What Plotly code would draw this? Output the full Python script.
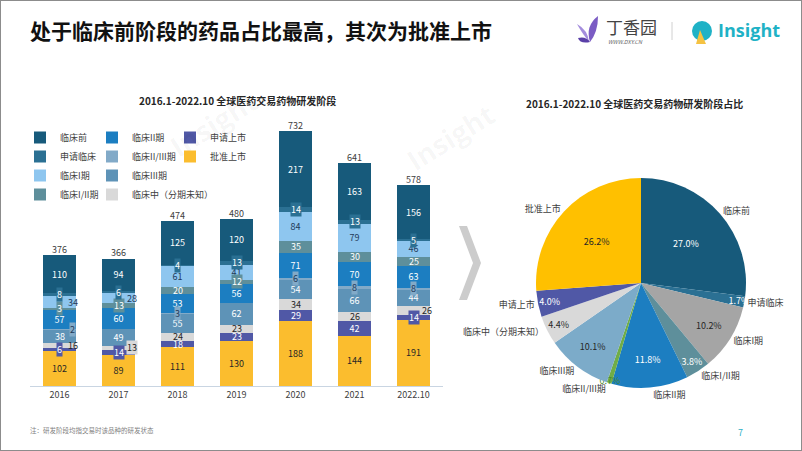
import plotly.graph_objects as go

W, H = 802, 451

# ---------------- data ----------------
years = ["2016", "2017", "2018", "2019", "2020", "2021", "2022.10"]
# stack order: bottom -> top
series_names = ["批准上市", "申请上市", "临床中（分期未知）", "临床III期", "临床II/III期",
                "临床II期", "临床I/II期", "临床I期", "申请临床", "临床前"]
approved        = [102, 89, 111, 130, 188, 144, 191]
apply_market    = [6, 14, 18, 23, 29, 42, 14]
unknown_phase   = [16, 13, 24, 23, 34, 26, 26]
phase3          = [38, 49, 55, 62, 54, 66, 44]
phase2_3        = [2, 0, 3, 0, 6, 8, 8]
phase2          = [57, 60, 53, 56, 71, 70, 63]
phase1_2        = [3, 13, 20, 12, 35, 30, 25]
phase1          = [34, 28, 61, 41, 84, 79, 46]
apply_clinical  = [8, 6, 4, 13, 14, 13, 5]
preclinical     = [110, 94, 125, 120, 217, 163, 156]
series_values = [approved, apply_market, unknown_phase, phase3, phase2_3,
                 phase2, phase1_2, phase1, apply_clinical, preclinical]

# pie order (clockwise from 12 o'clock)
pie_labels = ["临床前", "申请临床", "临床I期", "临床I/II期", "临床II期", "临床II/III期",
              "临床III期", "临床中（分期未知）", "申请上市", "批准上市"]

# ---------------- styles ----------------
bar_colors = {
    "批准上市": "#fbbd2e", "申请上市": "#5058a6", "临床中（分期未知）": "#d9d9d9",
    "临床III期": "#5e93b7", "临床II/III期": "#82aac8", "临床II期": "#1c7ec1",
    "临床I/II期": "#5e8f9b", "临床I期": "#8ec6ef", "申请临床": "#2b7093", "临床前": "#175a7b",
}
text_colors = {
    "批准上市": "#262626", "申请上市": "#ffffff", "临床中（分期未知）": "#262626",
    "临床III期": "#ffffff", "临床II/III期": "#1f3a5a", "临床II期": "#ffffff",
    "临床I/II期": "#ffffff", "临床I期": "#1f3a5a", "申请临床": "#ffffff", "临床前": "#ffffff",
}
pie_colors = {
    "临床前": "#175a7b", "申请临床": "#2b7093", "临床I期": "#a5a5a5", "临床I/II期": "#5e8f9b",
    "临床II期": "#1c7ec1", "临床II/III期": "#70ad47", "临床III期": "#7cabc9",
    "临床中（分期未知）": "#d9d9d9", "申请上市": "#5058a6", "批准上市": "#ffc000",
}
pie_text_colors = {
    "临床前": "#ffffff", "申请临床": "#ffffff", "临床I期": "#262626", "临床I/II期": "#ffffff",
    "临床II期": "#ffffff", "临床II/III期": "#4a8a2c", "临床III期": "#262626",
    "临床中（分期未知）": "#262626", "申请上市": "#ffffff", "批准上市": "#262626",
}
legend_of = {
    "临床前": ("legend", 1), "申请临床": ("legend", 2), "临床I期": ("legend", 3), "临床I/II期": ("legend", 4),
    "临床II期": ("legend2", 1), "临床II/III期": ("legend2", 2), "临床III期": ("legend2", 3),
    "临床中（分期未知）": ("legend2", 4), "申请上市": ("legend3", 1), "批准上市": ("legend3", 2),
}

FONT = "Noto Sans CJK SC"
BOXED = 14     # segments this small get a boxed label
BIG = 40       # segments larger than this keep the bar's own inside text
MIN_GAP = 21   # minimum vertical distance (data units) between small labels
SHIFTS = [0, 13, -13]


def px(x):
    return x / W


def py(y):
    return 1 - y / H


fig = go.Figure()

# bars
for name, vals in zip(series_names, series_values):
    lg, rank = legend_of[name]
    fig.add_trace(go.Bar(
        x=years, y=vals, name=name, marker=dict(color=bar_colors[name], line=dict(width=0)),
        text=[str(v) if v > BIG else "" for v in vals], textposition="inside",
        insidetextanchor="middle", textangle=0,
        textfont=dict(size=9, color=text_colors[name], family=FONT),
        legend=lg, legendrank=rank, xaxis="x", yaxis="y",
    ))

# labels of thin segments: placed through the axes, nudged sideways when they would collide
annotations = []
for j in range(len(years)):
    base = 0
    segs = []
    for name, vals in zip(series_names, series_values):
        v = vals[j]
        segs.append((name, v, base + v / 2))
        base += v
    placed = [(mid, 0) for name, v, mid in segs if v > BIG]
    for name, v, mid in segs:
        if v == 0 or v > BIG:
            continue
        shift = 0
        for s in SHIFTS:
            if all(abs(mid - m) >= MIN_GAP for m, ps in placed if ps == s):
                shift = s
                break
        placed.append((mid, shift))
        boxed = v <= BOXED or (shift != 0 and text_colors[name] == "#ffffff")
        annotations.append(dict(
            x=j, y=mid, xref="x", yref="y", text=str(v), showarrow=False, xshift=shift,
            font=dict(size=9, color=text_colors[name], family=FONT),
            bgcolor=bar_colors[name] if boxed else "rgba(0,0,0,0)", borderpad=0,
        ))

totals = [sum(vals[j] for vals in series_values) for j in range(len(years))]
fig.add_trace(go.Scatter(
    x=years, y=totals, mode="text", text=[str(t) for t in totals], textposition="top center",
    textfont=dict(size=9, color="#404040", family=FONT), showlegend=False, hoverinfo="skip",
    cliponaxis=False, xaxis="x", yaxis="y",
))

# ---------------- pie ----------------
idx = {n: i for i, n in enumerate(series_names)}
pie_vals = [sum(series_values[idx[n]]) for n in pie_labels]
pie_domain = dict(x=[px(536), px(746)], y=[py(388), py(178)])
fig.add_trace(go.Pie(
    labels=pie_labels, values=pie_vals, sort=False, direction="clockwise", rotation=0,
    marker=dict(colors=[pie_colors[n] for n in pie_labels], line=dict(width=0)),
    texttemplate="%{percent:.1%}", textposition="inside", insidetextorientation="horizontal",
    textfont=dict(size=9, color=[pie_text_colors[n] for n in pie_labels], family=FONT),
    domain=pie_domain, showlegend=False,
))
fig.add_trace(go.Pie(
    labels=pie_labels, values=pie_vals, sort=False, direction="clockwise", rotation=0,
    marker=dict(colors=["rgba(0,0,0,0)"] * len(pie_labels), line=dict(width=0)),
    textinfo="label", textposition="outside",
    textfont=dict(size=8.5, color="#404040", family=FONT),
    domain=pie_domain, showlegend=False, hoverinfo="skip",
))

# ---------------- decorations ----------------
annotations += [
    dict(x=px(28), y=py(30), xref="paper", yref="paper", xanchor="left", yanchor="middle",
         text="<b>处于临床前阶段的药品占比最高，其次为批准上市</b>", showarrow=False,
         font=dict(size=21, color="#111111", family=FONT)),
    dict(x=px(237), y=py(101), xref="paper", yref="paper", xanchor="center", yanchor="middle",
         text="<b>2016.1-2022.10 全球医药交易药物研发阶段</b>", showarrow=False,
         font=dict(size=10, color="#262626", family=FONT)),
    dict(x=px(634), y=py(103), xref="paper", yref="paper", xanchor="center", yanchor="middle",
         text="<b>2016.1-2022.10 全球医药交易药物研发阶段占比</b>", showarrow=False,
         font=dict(size=10, color="#262626", family=FONT)),
    dict(x=px(28), y=py(430), xref="paper", yref="paper", xanchor="left", yanchor="middle",
         text="注：研发阶段均指交易时该品种的研发状态", showarrow=False,
         font=dict(size=6.5, color="#7f7f7f", family=FONT)),
    dict(x=px(740), y=py(432), xref="paper", yref="paper", xanchor="center", yanchor="middle",
         text="7", showarrow=False, font=dict(size=9, color="#2ab0c5", family=FONT)),
    # logos
    dict(x=px(604), y=py(27), xref="paper", yref="paper", xanchor="left", yanchor="middle",
         text="丁香园", showarrow=False, font=dict(size=17, color="#444444", family=FONT)),
    dict(x=px(606), y=py(42), xref="paper", yref="paper", xanchor="left", yanchor="middle",
         text="<i>WWW.DXY.CN</i>", showarrow=False, font=dict(size=5.5, color="#666666", family=FONT)),
    dict(x=px(716), y=py(30), xref="paper", yref="paper", xanchor="left", yanchor="middle",
         text="<b>Insight</b>", showarrow=False, font=dict(size=18, color="#1fb2c6", family="Open Sans")),
    # faint watermarks
    dict(x=px(160), y=py(78), xref="paper", yref="paper", text="<b>Insight</b>", showarrow=False,
         textangle=-32, font=dict(size=28, color="rgba(0,0,0,0.04)", family="Open Sans")),
    dict(x=px(450), y=py(92), xref="paper", yref="paper", text="<b>Insight</b>", showarrow=False,
         textangle=-32, font=dict(size=28, color="rgba(0,0,0,0.04)", family="Open Sans")),
]

shapes = [
    dict(type="rect", xref="paper", yref="paper", x0=0, y0=0, x1=1, y1=1,
         line=dict(color="#8c8c8c", width=2), fillcolor="rgba(0,0,0,0)", layer="above"),
    # chevron arrow
    dict(type="path", xref="paper", yref="paper",
         path=(f"M{px(459)},{py(226)} L{px(467)},{py(226)} L{px(481)},{py(263)} "
               f"L{px(467)},{py(300)} L{px(459)},{py(300)} L{px(473)},{py(263)} Z"),
         fillcolor="#cccccc", line=dict(width=0)),
    # divider between logos
    dict(type="line", xref="paper", yref="paper", x0=px(672), x1=px(672), y0=py(22), y1=py(40),
         line=dict(color="#d0d0d0", width=1)),
    # dxy icon (purple leaves)
    dict(type="path", xref="paper", yref="paper",
         path=(f"M{px(590)},{py(42)} Q{px(585)},{py(26)} {px(598)},{py(16)} "
               f"Q{px(598)},{py(32)} {px(590)},{py(42)} Z"),
         fillcolor="#7b5cc4", line=dict(width=0)),
    dict(type="path", xref="paper", yref="paper",
         path=(f"M{px(589)},{py(42)} Q{px(580)},{py(30)} {px(577)},{py(24)} "
               f"Q{px(588)},{py(30)} {px(589)},{py(42)} Z"),
         fillcolor="#a48ddd", line=dict(width=0)),
    dict(type="path", xref="paper", yref="paper",
         path=(f"M{px(590)},{py(42)} Q{px(580)},{py(44)} {px(578)},{py(38)} "
               f"Q{px(586)},{py(36)} {px(590)},{py(42)} Z"),
         fillcolor="#5a3fa8", line=dict(width=0)),
    # insight icon
    dict(type="circle", xref="paper", yref="paper", x0=px(692), x1=px(712), y0=py(41), y1=py(21),
         fillcolor="#1fb2c6", line=dict(width=0)),
    dict(type="path", xref="paper", yref="paper",
         path=f"M{px(700)},{py(30)} L{px(706)},{py(44)} L{px(696)},{py(44)} Z",
         fillcolor="#f5c242", line=dict(width=0)),
]

legend_common = dict(font=dict(size=9, color="#404040", family=FONT), bgcolor="rgba(0,0,0,0)",
                     traceorder="normal", orientation="v", xanchor="left", yanchor="top",
                     itemwidth=30, tracegroupgap=0, itemclick=False, itemdoubleclick=False)

fig.update_layout(
    width=W, height=H, margin=dict(l=0, r=0, t=0, b=0),
    paper_bgcolor="white", plot_bgcolor="white",
    barmode="stack", bargap=0.44,
    uniformtext=dict(mode="show", minsize=9),
    font=dict(family=FONT),
    xaxis=dict(type="category", categoryorder="array", categoryarray=years,
               range=[-0.5, len(years) - 0.5], autorange=False,
               domain=[px(30), px(443)], showline=True, linecolor="#c9d5e2",
               linewidth=1, ticks="", showgrid=False, zeroline=False, fixedrange=True,
               tickfont=dict(size=9, color="#404040", family=FONT)),
    yaxis=dict(domain=[py(386), py(125)], range=[0, 750], autorange=False, visible=False,
               showgrid=False, zeroline=False, fixedrange=True),
    legend=dict(x=px(20), y=py(123), **legend_common),
    legend2=dict(x=px(92), y=py(123), **legend_common),
    legend3=dict(x=px(170), y=py(123), **legend_common),
    annotations=annotations, shapes=shapes,
)

fig.write_html("out.html", config={"displayModeBar": False},
               post_script="document.body.style.margin='0';")
